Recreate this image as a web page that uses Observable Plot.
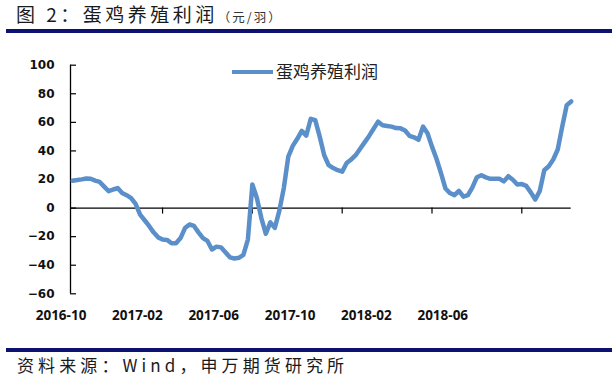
<!DOCTYPE html>
<html>
<head>
<meta charset="utf-8">
<script src="https://cdn.jsdelivr.net/npm/d3@7"></script>
<script src="https://cdn.jsdelivr.net/npm/@observablehq/plot@0.6"></script>
<style>
  html, body { margin: 0; padding: 0; background: #fff; }
  #wrap { position: relative; width: 616px; height: 390px; overflow: hidden; background: #fff; }
  .cjk { font-family: "Noto Sans CJK SC", "Noto Sans", sans-serif; }
  #title { position: absolute; left: 16px; top: 4px; font-size: 19px; line-height: 19px; letter-spacing: 3.5px; color: #1a1a1a; white-space: nowrap; }
  #title .unit { font-size: 12.5px; letter-spacing: 2px; color: #333; }
  .rule { position: absolute; left: 6px; right: 4px; background: #0d1270; }
  #chart { position: absolute; left: 0; top: 36px; }
  #legend { position: absolute; left: 232px; top: 61.5px; font-size: 17px; line-height: 17px; color: #222; white-space: nowrap; }
  #legend .swatch { display: inline-block; width: 41px; height: 4px; background: #5b8fc9; vertical-align: middle; margin-right: 3px; position: relative; top: -1px; }
  #caption { position: absolute; left: 17px; top: 356px; font-size: 17px; line-height: 17px; letter-spacing: 4.1px; color: #1a1a1a; white-space: nowrap; }
</style>
</head>
<body>
<div id="wrap">
  <div id="title" class="cjk">图 2：蛋鸡养殖利润<span class="unit">（元/羽）</span></div>
  <div class="rule" style="top:29px;height:4px"></div>
  <div id="chart"></div>
  <div id="legend" class="cjk"><span class="swatch"></span>蛋鸡养殖利润</div>
  <div class="rule" style="top:348px;height:3.5px"></div>
  <div id="caption" class="cjk">资料来源：Wind，申万期货研究所</div>
</div>
<script>
// Weekly egg-laying hen farming profit (yuan per bird), week index 0 = mid Oct 2016
const profit = [
  19.2, 19.6, 20.1, 20.7, 20.5, 19.2, 18.3, 15.0, 11.8, 13.0,
  14.0, 10.5, 9.0, 7.0, 3.0, -4.6, -8.5, -12.5, -17.0, -20.5,
  -22.0, -22.3, -24.6, -24.6, -21.0, -14.0, -11.5, -12.5, -17.0, -21.0,
  -23.0, -29.0, -27.0, -27.5, -31.0, -34.5, -35.3, -34.8, -32.8, -22.0,
  16.5, 7.0, -7.0, -18.0, -10.0, -13.9, -2.0, 14.0, 36.0, 43.5,
  48.5, 54.0, 50.7, 62.5, 61.5, 50.0, 37.0, 30.0, 28.0, 26.5,
  25.5, 31.5, 34.0, 37.0, 41.5, 46.0, 50.5, 55.5, 60.5, 58.0,
  57.5, 57.0, 56.0, 55.8, 54.3, 50.5, 49.5, 47.8, 57.0, 52.4,
  43.0, 34.5, 24.5, 13.7, 10.5, 9.0, 12.0, 8.0, 9.0, 14.5,
  21.6, 23.0, 21.5, 20.5, 20.5, 20.5, 18.7, 22.3, 19.8, 16.5,
  16.8, 15.5, 11.0, 6.0, 12.0, 26.5, 29.3, 34.0, 41.0, 57.0,
  72.0, 74.6
];
const seriesName = "蛋鸡养殖利润";
const xTickLabels = ["2016-10", "2017-02", "2017-06", "2017-10", "2018-02", "2018-06"];
const xLabelWeeks = [0, 17, 34, 51, 68, 85];
const xTickMarkWeeks = [20, 40, 60, 80, 100];
const yTicks = [-60, -40, -20, 0, 20, 40, 60, 80, 100];

const xDomain = [-0.5, profit.length - 1];
const data = profit.map((v, i) => ({week: i, value: v}));
const lineColor = "#5b8fc9";

const chart = Plot.plot({
  width: 616,
  height: 304,
  marginLeft: 70,
  marginRight: 45.3,
  marginTop: 28.7,
  marginBottom: 46.7,
  style: {background: "transparent", color: "#000"},
  x: {domain: xDomain},
  y: {domain: [-60, 100]},
  marks: [
    Plot.ruleY([0], {stroke: "#000", strokeWidth: 1.3}),
    Plot.ruleX([xDomain[0]], {stroke: "#000", strokeWidth: 1.3}),
    Plot.ruleY(yTicks, {x1: xDomain[0], x2: xDomain[0], insetRight: -6, stroke: "#000", strokeWidth: 1.2}),
    Plot.ruleX(xTickMarkWeeks, {y1: 0, y2: 0, insetBottom: -6, stroke: "#000", strokeWidth: 1.2}),
    Plot.line(data, {x: "week", y: "value", stroke: lineColor, strokeWidth: 4.5, strokeLinejoin: "round", strokeLinecap: "round"}),
    Plot.axisY({ticks: yTicks, tickSize: 0, tickPadding: 16, label: null, fontSize: 12, fontWeight: "bold", fontFamily: "DejaVu Sans", fill: "#111"}),
    Plot.axisX({ticks: xLabelWeeks, tickFormat: d => xTickLabels[xLabelWeeks.indexOf(d)], tickSize: 0, tickPadding: 16.5, dx: -11.7, label: null, fontSize: 13.5, fontWeight: "bold", fontFamily: "Open Sans", fill: "#111"})
  ]
});
document.getElementById("chart").appendChild(chart);
</script>
</body>
</html>
